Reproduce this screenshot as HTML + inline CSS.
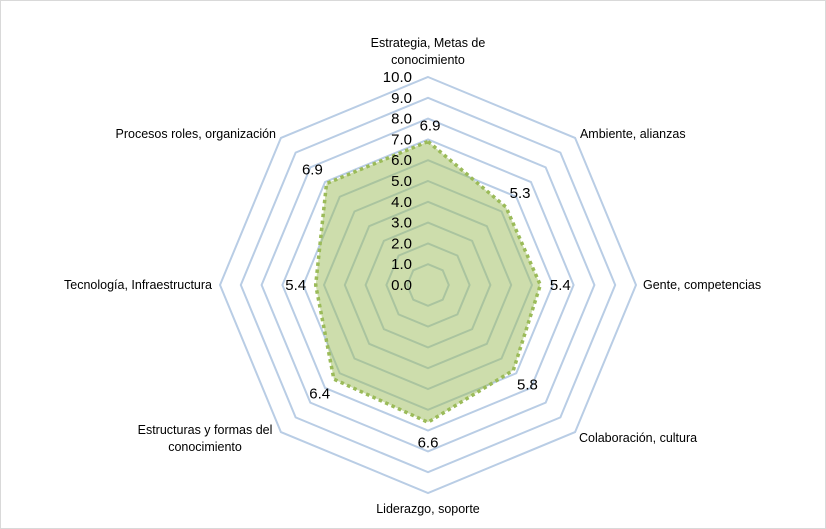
<!DOCTYPE html>
<html><head><meta charset="utf-8"><style>
body{margin:0;background:#fff}
svg{display:block}
text{font-family:"Liberation Sans",sans-serif;fill:#000}
</style></head><body>
<svg id="chart" width="826" height="529" viewBox="0 0 826 529">
<rect x="0.5" y="0.5" width="825" height="528" fill="#fff" stroke="#d9d9d9"/>
<g id="grid"></g><g id="series"></g><g id="labels"></g>
</svg>
<script>
const categories=["Estrategia, Metas de|conocimiento","Ambiente, alianzas","Gente, competencias","Colaboración, cultura","Liderazgo, soporte","Estructuras y formas del|conocimiento","Tecnología, Infraestructura","Procesos roles, organización"];
const values=[6.9,5.3,5.4,5.8,6.6,6.4,5.4,6.9];
const ticks=["0.0","1.0","2.0","3.0","4.0","5.0","6.0","7.0","8.0","9.0","10.0"];
const maxV=10;
const cx=428,cy=285,R=208;
const ns="http://www.w3.org/2000/svg";
function mk(t,a,p){const e=document.createElementNS(ns,t);for(const k in a)e.setAttribute(k,a[k]);p.appendChild(e);return e;}
function ang(i){return -Math.PI/2+i*2*Math.PI/categories.length;}
function pt(i,v){const r=v/maxV*R;return [cx+r*Math.cos(ang(i)),cy+r*Math.sin(ang(i))];}
const grid=document.getElementById('grid'),series=document.getElementById('series'),labels=document.getElementById('labels');
for(let k=1;k<ticks.length;k++){
 const v=parseFloat(ticks[k]);
 const pts=categories.map((c,i)=>pt(i,v).join(',')).join(' ');
 const g=mk('polygon',{points:pts,fill:'none',stroke:'#b9cde5','stroke-width':2},grid);
 
 
}
ticks.forEach((t,k)=>{
 const v=parseFloat(t);
 const e=mk('text',{x:cx-16,y:cy-v/maxV*R+5,'text-anchor':'end','font-size':15},labels);
 e.textContent=t;
 
 
});
const spts=values.map((v,i)=>pt(i,v).join(',')).join(' ');
const area=mk('polygon',{points:spts,fill:'rgba(155,187,89,0.5)',stroke:'none'},series);


const line=mk('polygon',{points:spts,fill:'none',stroke:'#9bbb59','stroke-width':3.5,'stroke-dasharray':'3.5 3.5'},series);


values.forEach((v,i)=>{
 const r=v/maxV*R+(i===0?16:20);
 const x=cx+r*Math.cos(ang(i))+(i===0?2:0),y=cy+r*Math.sin(ang(i));
 const e=mk('text',{x:x,y:y+5,'text-anchor':'middle','font-size':15},labels);
 e.textContent=v.toFixed(1);
 
 
});
const anchors=['middle','start','start','start','middle','middle','end','end'];
const dx=[0,-5,-7,-6,0,-66,6,5];
const dy=[8,12,0,-12,-10,-20,0,12];
categories.forEach((c,i)=>{
 const r=R+14;
 const a=ang(i);
 let x=cx+r*Math.cos(a)+dx[i],y=cy+r*Math.sin(a)+dy[i];
 const lines=c.split('|');
 let y0;
 if(i===0)y0=y-lines.length*17+10;
 else if(i===4)y0=y+16;
 else if(i===1||i===7)y0=y-2;
 else if(i===3||i===5)y0=y+12;
 else y0=y+4;
 lines.forEach((l,j)=>{
  const e=mk('text',{x:x,y:y0+j*17,'text-anchor':anchors[i],'font-size':12.5},labels);
  e.textContent=l;
  
  
 });
});
</script>
</body></html>
